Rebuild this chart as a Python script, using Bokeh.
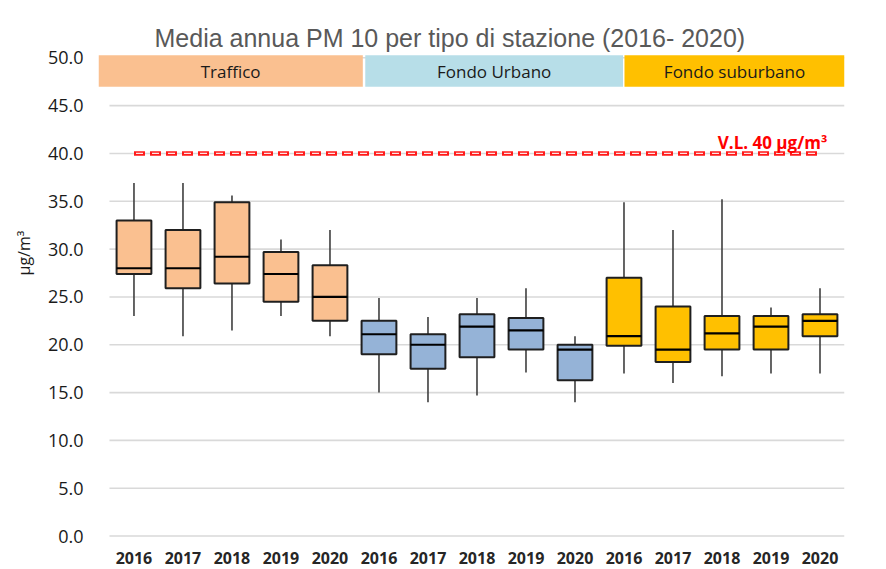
import math
from bokeh.plotting import figure
from bokeh.models import ColumnDataSource, FixedTicker, Range1d, PrintfTickFormatter, Title
from bokeh.embed import file_html
from bokeh.resources import INLINE
from bokeh.core.properties import value

# ---------------- data ----------------
years = ["2016", "2017", "2018", "2019", "2020"]
groups = ["Traffico", "Fondo Urbano", "Fondo suburbano"]
x_labels = years * 3

whisker_low = [23.0, 20.9, 21.5, 23.0, 20.9,
               15.0, 14.0, 14.7, 17.1, 14.0,
               17.0, 16.0, 16.7, 17.0, 17.0]
q1 = [27.4, 25.9, 26.4, 24.5, 22.5,
      19.0, 17.5, 18.7, 19.5, 16.3,
      19.9, 18.2, 19.5, 19.5, 20.9]
median = [28.0, 28.0, 29.2, 27.4, 25.0,
          21.1, 20.0, 21.9, 21.5, 19.5,
          20.9, 19.5, 21.2, 21.9, 22.5]
q3 = [33.0, 32.0, 34.9, 29.7, 28.3,
      22.5, 21.1, 23.2, 22.8, 20.0,
      27.0, 24.0, 23.0, 23.0, 23.2]
whisker_high = [36.9, 36.9, 35.6, 31.0, 32.0,
                24.9, 22.9, 24.9, 25.9, 20.9,
                34.9, 32.0, 35.2, 23.9, 25.9]
limit_value = 40.0
limit_label = "V.L. 40 µg/m³"
y_ticks = [0, 5, 10, 15, 20, 25, 30, 35, 40, 45, 50]
title_text = "Media annua PM 10 per tipo di stazione (2016- 2020)"
y_label = "µg/m³"

# ---------------- styles ----------------
box_colors = {"Traffico": "#FAC090", "Fondo Urbano": "#95B3D7", "Fondo suburbano": "#FFC000"}
band_colors = {"Traffico": "#FAC090", "Fondo Urbano": "#B7DEE8", "Fondo suburbano": "#FFC000"}
band_left = [-0.224, 5.22, 10.51]
band_right = [5.17, 10.48, 15.0]
band_bottom, band_top = 46.97, 50.28
FONT = "Open Sans"

n = len(x_labels)
xs = [i + 0.5 for i in range(n)]
grp = [g for g in groups for _ in years]
src = ColumnDataSource(dict(
    x=xs, lo=whisker_low, q1=q1, med=median, q3=q3, hi=whisker_high,
    color=[box_colors[g] for g in grp],
))

p = figure(width=886, height=569, output_backend="svg", toolbar_location=None,
           x_range=Range1d(-0.224, 15.0), y_range=Range1d(-0.15, 50.45),
           min_border_left=98, min_border_right=42, min_border_top=53, min_border_bottom=32)
p.outline_line_color = None
p.xgrid.visible = False
p.ygrid.visible = False
p.background_fill_color = "white"
p.border_fill_color = "white"

# title
p.title.text = title_text
p.title.align = "left"
p.title.offset = 56
p.title.standoff = 4
p.title.text_font = "Liberation Sans"
p.title.text_font_size = "25px"
p.title.text_font_style = "normal"
p.title.text_color = "#595959"

# y label as a left-side title (rotated)
p.add_layout(Title(text=y_label, align="left", offset=262, standoff=19,
                   text_font=FONT, text_font_size="16px", text_font_style="normal",
                   text_color="#1a1a1a"), "left")

# gridlines (from first to last category edge)
p.segment(x0=[0] * len(y_ticks), x1=[n] * len(y_ticks), y0=y_ticks, y1=y_ticks,
          line_color="#d9d9d9", line_width=1.6)

# header bands
bsrc = ColumnDataSource(dict(
    left=band_left, right=band_right, name=groups,
    color=[band_colors[g] for g in groups],
    cx=[(a + b) / 2 for a, b in zip(band_left, band_right)],
))
p.quad(left="left", right="right", bottom=band_bottom, top=band_top,
       fill_color="color", line_color=None, source=bsrc)
p.text(x="cx", y=(band_bottom + band_top) / 2 - 0.1, text="name", source=bsrc,
       text_align="center", text_baseline="middle", text_font=value(FONT),
       text_font_size="17px", text_color="#1a1a1a")

# limit line
p.line([xs[0], xs[-1]], [limit_value, limit_value], line_color="#FF1a1a",
       line_width=4.5, line_dash="11 5")
p.line([xs[0], xs[-1]], [limit_value, limit_value], line_color="#ffe3e3",
       line_width=1.3, line_dash="7 9", line_dash_offset=-2)
p.text(x=[14.65], y=[limit_value + 1.1], text=[limit_label], text_align="right",
       text_baseline="alphabetic", text_font=value(FONT), text_font_size="17px",
       text_font_style="bold", text_color="#FF0000")

# whiskers and boxes
p.segment(x0="x", x1="x", y0="lo", y1="hi", line_color="#3f3f3f", line_width=1.6, source=src)
p.vbar(x="x", width=0.71, bottom="q1", top="q3", fill_color="color",
       line_color="#1f1f1f", line_width=2, source=src)
med_src = ColumnDataSource(dict(x0=[x - 0.355 for x in xs], x1=[x + 0.355 for x in xs], y=median))
p.segment(x0="x0", x1="x1", y0="y", y1="y", line_color="#000000", line_width=2.2, source=med_src)

# axes
p.xaxis.ticker = FixedTicker(ticks=xs)
p.xaxis.major_label_overrides = {x: lab for x, lab in zip(xs, x_labels)}
p.xaxis.axis_line_color = None
p.xaxis.major_tick_line_color = None
p.xaxis.minor_tick_line_color = None
p.xaxis.major_label_text_font = FONT
p.xaxis.major_label_text_font_size = "16px"
p.xaxis.major_label_text_font_style = "bold"
p.xaxis.major_label_text_color = "#262626"
p.xaxis.major_label_standoff = 8

p.yaxis.ticker = FixedTicker(ticks=y_ticks)
p.yaxis.formatter = PrintfTickFormatter(format="%.1f")
p.yaxis.axis_line_color = None
p.yaxis.major_tick_line_color = None
p.yaxis.minor_tick_line_color = None
p.yaxis.major_label_text_font = FONT
p.yaxis.major_label_text_font_size = "18px"
p.yaxis.major_label_text_color = "#1a1a1a"
p.yaxis.major_label_standoff = 9

open("out.html", "w").write(file_html(p, INLINE))
